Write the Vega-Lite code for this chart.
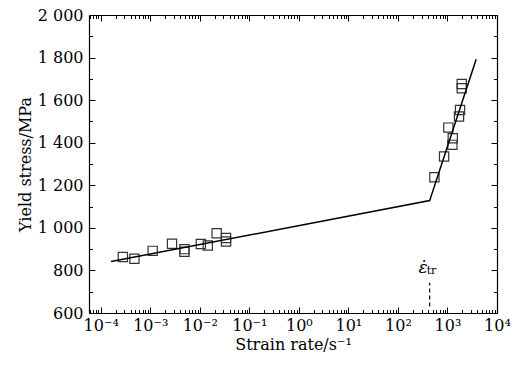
{
  "$schema": "https://vega.github.io/schema/vega-lite/v6.json",
  "width": 408,
  "height": 298,
  "autosize": "none",
  "padding": {"left": 89, "top": 15, "right": 21, "bottom": 52},
  "background": "white",
  "datasets": {
    "pts": [
      {"rate": 0.00028, "stress": 863},
      {"rate": 0.000479, "stress": 855},
      {"rate": 0.00112, "stress": 892},
      {"rate": 0.00275, "stress": 925},
      {"rate": 0.0049, "stress": 900},
      {"rate": 0.0049, "stress": 888},
      {"rate": 0.0105, "stress": 924},
      {"rate": 0.0145, "stress": 917},
      {"rate": 0.0219, "stress": 975},
      {"rate": 0.0339, "stress": 952},
      {"rate": 0.0339, "stress": 936},
      {"rate": 1941, "stress": 1676},
      {"rate": 1941, "stress": 1656},
      {"rate": 1795, "stress": 1554},
      {"rate": 1710, "stress": 1523},
      {"rate": 1042, "stress": 1471},
      {"rate": 1279, "stress": 1421},
      {"rate": 1256, "stress": 1390},
      {"rate": 855, "stress": 1335},
      {"rate": 545, "stress": 1238}
    ],
    "fit": [
      {"rate": 0.000162, "stress": 842},
      {"rate": 437, "stress": 1128},
      {"rate": 3800, "stress": 1792}
    ],
    "mark": [
      {"rate": 437, "y1": 630, "y2": 742}
    ],
    "eps": [
      {"rate": 323, "stress": 789, "label": "ε̇"}
    ],
    "sub": [
      {"rate": 380, "stress": 781, "label": "tr"}
    ]
  },
  "layer": [
    {
      "data": {"name": "pts"},
      "mark": {"type": "point", "shape": "square", "filled": false, "size": 85, "stroke": "#333333", "strokeWidth": 1.2, "opacity": 1},
      "encoding": {
        "x": {
          "field": "rate", "type": "quantitative",
          "scale": {"type": "log", "domain": [0.000058, 10000], "nice": false},
          "axis": {
            "orient": "bottom",
            "title": "Strain rate/s⁻¹",
            "values": [0.0001, 0.001, 0.01, 0.1, 1, 10, 100, 1000, 10000],
            "labelExpr": "'10' + ['⁻⁴','⁻³','⁻²','⁻¹','⁰','¹','²','³','⁴'][round(log(datum.value)/LN10) + 4]",
            "ticks": false,
            "labelPadding": 4,
            "labelOverlap": false,
            "labelFlush": false,
            "titlePadding": 3
          }
        },
        "y": {
          "field": "stress", "type": "quantitative",
          "scale": {"domain": [600, 2000], "nice": false, "zero": false},
          "axis": {
            "orient": "left",
            "title": "Yield stress/MPa",
            "values": [600, 800, 1000, 1200, 1400, 1600, 1800, 2000],
            "labelExpr": "datum.value >= 1000 ? floor(datum.value/1000) + ' ' + substring(toString(datum.value), 1) : toString(datum.value)",
            "ticks": false,
            "labelPadding": 6,
            "labelOverlap": false,
            "labelFlush": false,
            "titlePadding": 4
          }
        }
      }
    },
    {
      "data": {"name": "fit"},
      "mark": {"type": "line", "color": "black", "strokeWidth": 1.5},
      "encoding": {
        "x": {
          "field": "rate", "type": "quantitative",
          "axis": {
            "orient": "top", "offset": -298, "title": null, "labels": false, "domain": false,
            "values": [0.0001, 0.001, 0.01, 0.1, 1, 10, 100, 1000, 10000],
            "tickSize": 6
          }
        },
        "y": {
          "field": "stress", "type": "quantitative",
          "axis": {
            "orient": "right", "offset": -408, "title": null, "labels": false, "domain": false,
            "values": [600, 800, 1000, 1200, 1400, 1600, 1800, 2000],
            "tickSize": 6
          }
        }
      }
    },
    {
      "data": {"name": "mark"},
      "mark": {"type": "rule", "color": "black", "strokeWidth": 1.2, "strokeDash": [4, 3]},
      "encoding": {
        "x": {
          "field": "rate", "type": "quantitative",
          "axis": {
            "orient": "top", "offset": -298, "title": null, "labels": false, "domain": false,
            "values": [0.00006, 0.00007, 0.00008, 0.00009, 0.0002, 0.0003, 0.0004, 0.0005, 0.0006, 0.0007, 0.0008, 0.0009, 0.002, 0.003, 0.004, 0.005, 0.006, 0.007, 0.008, 0.009, 0.02, 0.03, 0.04, 0.05, 0.06, 0.07, 0.08, 0.09, 0.2, 0.3, 0.4, 0.5, 0.6, 0.7, 0.8, 0.9, 2, 3, 4, 5, 6, 7, 8, 9, 20, 30, 40, 50, 60, 70, 80, 90, 200, 300, 400, 500, 600, 700, 800, 900, 2000, 3000, 4000, 5000, 6000, 7000, 8000, 9000],
            "tickSize": 3.5
          }
        },
        "y": {
          "field": "y1", "type": "quantitative",
          "axis": {
            "orient": "right", "offset": -408, "title": null, "labels": false, "domain": false,
            "values": [700, 900, 1100, 1300, 1500, 1700, 1900],
            "tickSize": 3.5
          }
        },
        "y2": {"field": "y2"}
      }
    },
    {
      "data": {"name": "eps"},
      "mark": {"type": "text", "font": "DejaVu Serif", "fontStyle": "italic", "fontSize": 17, "align": "center", "baseline": "alphabetic", "color": "black"},
      "encoding": {
        "x": {
          "field": "rate", "type": "quantitative",
          "axis": {
            "orient": "bottom", "offset": -298, "title": null, "labels": false, "domain": true,
            "values": [0.0001, 0.001, 0.01, 0.1, 1, 10, 100, 1000, 10000],
            "tickSize": 6
          }
        },
        "y": {
          "field": "stress", "type": "quantitative",
          "axis": {
            "orient": "left", "offset": -408, "title": null, "labels": false, "domain": true,
            "values": [600, 800, 1000, 1200, 1400, 1600, 1800, 2000],
            "tickSize": 6
          }
        },
        "text": {"field": "label"}
      }
    },
    {
      "data": {"name": "sub"},
      "mark": {"type": "text", "font": "DejaVu Serif", "fontSize": 11, "align": "left", "baseline": "alphabetic", "color": "black"},
      "encoding": {
        "x": {
          "field": "rate", "type": "quantitative",
          "axis": {
            "orient": "bottom", "offset": -298, "title": null, "labels": false, "domain": false,
            "values": [0.00006, 0.00007, 0.00008, 0.00009, 0.0002, 0.0003, 0.0004, 0.0005, 0.0006, 0.0007, 0.0008, 0.0009, 0.002, 0.003, 0.004, 0.005, 0.006, 0.007, 0.008, 0.009, 0.02, 0.03, 0.04, 0.05, 0.06, 0.07, 0.08, 0.09, 0.2, 0.3, 0.4, 0.5, 0.6, 0.7, 0.8, 0.9, 2, 3, 4, 5, 6, 7, 8, 9, 20, 30, 40, 50, 60, 70, 80, 90, 200, 300, 400, 500, 600, 700, 800, 900, 2000, 3000, 4000, 5000, 6000, 7000, 8000, 9000],
            "tickSize": 3.5
          }
        },
        "y": {
          "field": "stress", "type": "quantitative",
          "axis": {
            "orient": "left", "offset": -408, "title": null, "labels": false, "domain": false,
            "values": [700, 900, 1100, 1300, 1500, 1700, 1900],
            "tickSize": 3.5
          }
        },
        "text": {"field": "label"}
      }
    }
  ],
  "resolve": {"axis": {"x": "independent", "y": "independent"}},
  "config": {
    "view": {"stroke": null},
    "font": "DejaVu Serif",
    "axis": {
      "labelFont": "DejaVu Serif",
      "titleFont": "DejaVu Serif",
      "labelFontSize": 16,
      "titleFontSize": 16,
      "titleFontWeight": "normal",
      "labelColor": "black",
      "titleColor": "black",
      "domainColor": "black",
      "tickColor": "black",
      "domainWidth": 1.2,
      "tickWidth": 1,
      "grid": false
    }
  }
}
